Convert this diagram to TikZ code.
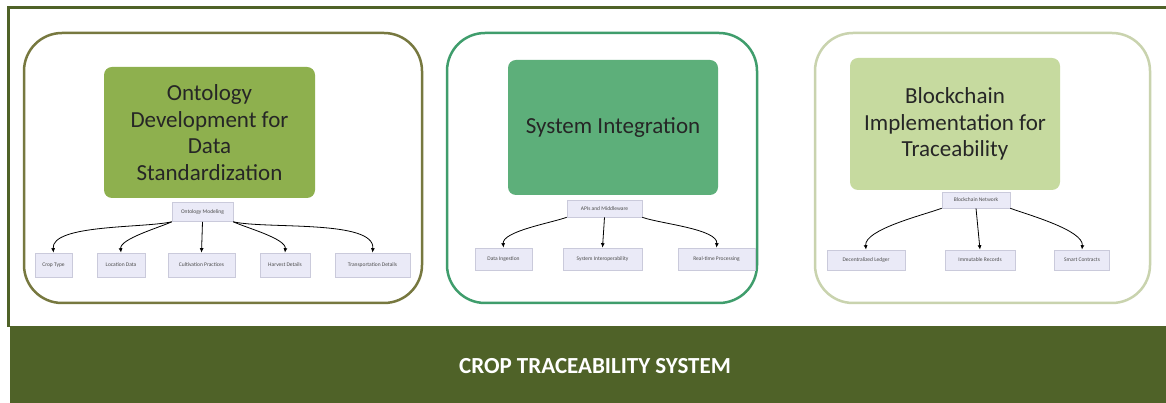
\documentclass[tikz,border=0pt]{standalone}
\usepackage{fontspec}
\setmainfont{Carlito}
\usetikzlibrary{arrows.meta}

\definecolor{darkolive}{HTML}{4F6228}
\definecolor{oliveline}{HTML}{77783F}
\definecolor{olivebox}{HTML}{8EB04E}
\definecolor{tealline}{HTML}{3F9D6C}
\definecolor{tealbox}{HTML}{5DAF7A}
\definecolor{sageline}{HTML}{C9D3AE}
\definecolor{sagebox}{HTML}{C6DA9F}
\definecolor{chipfill}{HTML}{EAEAF7}
\definecolor{chipline}{HTML}{CACADB}

\begin{document}
\begin{tikzpicture}[x=1pt,y=1pt,>={Latex[length=4.5pt,width=4pt]},
  panel/.style={line width=2.5pt,rounded corners=38pt},
  mainbox/.style={rounded corners=8pt,align=center,text=black!85,
    font=\fontsize{23}{26.5}\selectfont,inner sep=0pt},
  chip/.style={fill=chipfill,draw=chipline,line width=0.6pt,inner sep=1pt,
    font=\fontsize{5.5}{6}\selectfont,text=black!70},
  link/.style={->,line width=0.8pt}]

\useasboundingbox (0,0) rectangle (1166,403);

% frame and title band
\fill[white] (8,76) rectangle (1166,395);
\draw[darkolive,line width=3pt] (8,76) -- (8,395) -- (1166,395);
\fill[darkolive] (10,0) rectangle (1166,77);
\node[text=white,font=\fontsize{23}{26}\selectfont\bfseries] (title) at (595,37) {CROP TRACEABILITY SYSTEM};

% ontology panel
\draw[panel,oliveline] (24,100) rectangle (422,370);
\node[mainbox,fill=olivebox,minimum width=211pt,minimum height=131pt] (onto) at (209.5,270.5)
  {Ontology\\Development for\\Data\\Standardization};
\node[chip,minimum width=61pt,minimum height=19pt] (ontohub) at (202.5,191) {Ontology Modeling};
\node[chip,minimum width=37pt,minimum height=24pt] (crop) at (53.5,138) {Crop Type};
\node[chip,minimum width=48pt,minimum height=24pt] (loc) at (121,138) {Location Data};
\node[chip,minimum width=67pt,minimum height=24pt] (cult) at (201.5,138) {Cultivation Practices};
\node[chip,minimum width=50pt,minimum height=24pt] (harv) at (285,138) {Harvest Details};
\node[chip,minimum width=75pt,minimum height=24pt] (trans) at (372.5,138) {Transportation Details};

\draw[link] (ontohub.south west) to[out=193,in=95,looseness=0.6] (crop.north);
\draw[link] (ontohub.south west) to[out=205,in=95,looseness=0.6] (loc.north);
\draw[link] (ontohub.south) -- (cult.north);
\draw[link] (ontohub.south east) to[out=-25,in=85,looseness=0.6] (harv.north);
\draw[link] (ontohub.south east) to[out=-13,in=85,looseness=0.6] (trans.north);

% integration panel
\draw[panel,tealline] (447,100) rectangle (757,370);
\node[mainbox,fill=tealbox,minimum width=210pt,minimum height=135pt] (integ) at (613,275.5)
  {System Integration};
\node[chip,minimum width=75pt,minimum height=17pt] (integhub) at (604.5,194.5) {APIs and Middleware};
\node[chip,minimum width=57pt,minimum height=22pt] (ingest) at (503.5,144) {Data Ingestion};
\node[chip,minimum width=79pt,minimum height=22pt] (interop) at (602.5,144) {System Interoperability};
\node[chip,minimum width=77pt,minimum height=22pt] (realtime) at (716.5,144) {Real-time Processing};

\draw[link] (integhub.south west) to[out=200,in=95,looseness=0.6] (ingest.north);
\draw[link] (integhub.south) -- (interop.north);
\draw[link] (integhub.south east) to[out=-20,in=85,looseness=0.6] (realtime.north);

% blockchain panel
\draw[panel,sageline] (815,100) rectangle (1150,370);
\node[mainbox,fill=sagebox,minimum width=210pt,minimum height=132pt] (chain) at (955,279)
  {Blockchain\\Implementation for\\Traceability};
\node[chip,minimum width=68pt,minimum height=16pt] (chainhub) at (976,203) {Blockchain Network};
\node[chip,minimum width=78pt,minimum height=20pt] (ledger) at (866,143) {Decentralized Ledger};
\node[chip,minimum width=70pt,minimum height=20pt] (records) at (980,143) {Immutable Records};
\node[chip,minimum width=55pt,minimum height=20pt] (smart) at (1082,143) {Smart Contracts};

\draw[link] (chainhub.south west) to[out=200,in=95,looseness=0.6] (ledger.north);
\draw[link] (chainhub.south) -- (records.north);
\draw[link] (chainhub.south east) to[out=-20,in=85,looseness=0.6] (smart.north);

\end{tikzpicture}
\end{document}
